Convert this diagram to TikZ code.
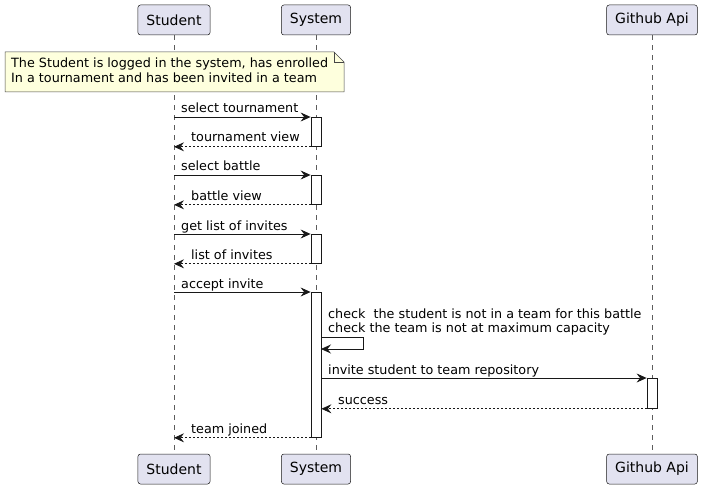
\documentclass[tikz,border=0pt]{standalone}
\usepackage{fontspec}
\setmainfont{DejaVu Sans}
\usetikzlibrary{arrows.meta}

\definecolor{partfill}{HTML}{E2E2F0}
\definecolor{notefill}{HTML}{FEFFDD}
\definecolor{umlline}{HTML}{181818}

\begin{document}
\begin{tikzpicture}[x=1pt, y=-1pt,
    font=\fontsize{12.75}{15}\selectfont,
    actor/.style={draw=umlline, line width=0.5pt, fill=partfill, rounded corners=2.5pt,
        minimum height=30pt, inner xsep=8.5pt, font=\fontsize{14}{16}\selectfont},
    life/.style={draw=umlline!70, line width=0.5pt, dash pattern=on 5pt off 5pt},
    actbox/.style={draw=umlline, line width=0.8pt, fill=white, minimum width=10pt, inner sep=0pt, anchor=north},
    msg/.style={draw=umlline, line width=0.8pt, -{Stealth[length=10pt, width=9pt, inset=3.5pt]}},
    reply/.style={msg, dash pattern=on 2pt off 2pt},
    lbl/.style={anchor=base west, inner sep=0pt}]
    \useasboundingbox (0,0) rectangle (703,489);

    % participants
    \node[actor] (stu) at (174,20) {Student};
    \node[actor] (sys) at (316,20) {System};
    \node[actor] (git) at (652,20) {Github Api};
    \node[actor] (stub) at (174,469) {Student};
    \node[actor] (sysb) at (316,469) {System};
    \node[actor] (gitb) at (652,469) {Github Api};

    \draw[life] (stu) -- (stub);
    \draw[life] (sys) -- (sysb);
    \draw[life] (git) -- (gitb);

    % note
    \draw[draw=umlline!80, line width=0.5pt, fill=notefill]
        (5,52) -- (334,52) -- (344,62) -- (344,92) -- (5,92) -- cycle;
    \draw[draw=umlline!80, line width=0.5pt] (334,52) -- (334,62) -- (344,62);
    \node[lbl] (note1) at (11,68) {The Student is logged in the system, has enrolled};
    \node[lbl] (note2) at (11,82.5) {In a tournament and has been invited in a team};

    % activations
    \node[actbox, minimum height=29pt] (a1) at (316,117) {};
    \node[actbox, minimum height=29pt] (a2) at (316,175) {};
    \node[actbox, minimum height=29pt] (a3) at (316,234) {};
    \node[actbox, minimum height=145pt] (a5) at (316,292) {};
    \node[actbox, minimum height=30pt] (a6) at (652,378) {};

    % messages
    \draw[msg] (stu |- a1.north) -- (a1.north west);
    \node[lbl] (m1) at (181,113) {select tournament};
    \draw[reply] (a1.south west) -- (stu |- a1.south);
    \node[lbl] (m2) at (191,142) {tournament view};

    \draw[msg] (stu |- a2.north) -- (a2.north west);
    \node[lbl] (m3) at (181,171) {select battle};
    \draw[reply] (a2.south west) -- (stu |- a2.south);
    \node[lbl] (m4) at (191,200) {battle view};

    \draw[msg] (stu |- a3.north) -- (a3.north west);
    \node[lbl] (m5) at (181,230) {get list of invites};
    \draw[reply] (a3.south west) -- (stu |- a3.south);
    \node[lbl] (m6) at (191,259) {list of invites};

    \draw[msg] (stu |- a5.north) -- (a5.north west);
    \node[lbl] (m7) at (181,288) {accept invite};

    \coordinate (self) at (321,337);
    \draw[msg] (self) -- ++(42,0) -- ++(0,12) -- ++(-42,0);
    \node[lbl] (m8) at (328,318) {check\ \ the student is not in a team for this battle};
    \node[lbl] (m9) at (328,332) {check the team is not at maximum capacity};

    \draw[msg] (a5.east |- a6.north) -- (a6.north west);
    \node[lbl] (m10) at (328,374) {invite student to team repository};
    \draw[reply] (a6.south west) -- (a5.east |- a6.south);
    \node[lbl] (m11) at (338,404) {success};

    \draw[reply] (a5.south west) -- (stu |- a5.south);
    \node[lbl] (m12) at (191,433) {team joined};
\end{tikzpicture}
\end{document}
